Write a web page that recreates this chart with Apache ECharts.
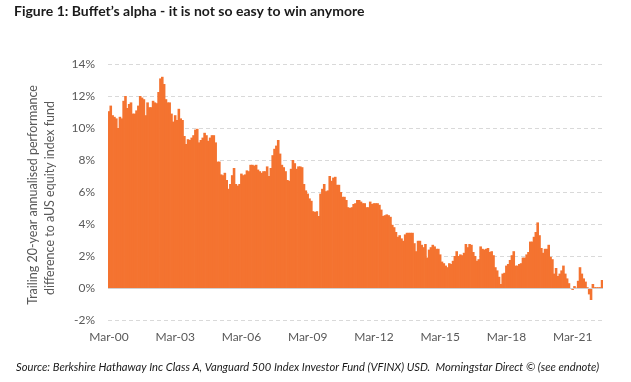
<!DOCTYPE html>
<html>
<head>
<meta charset="utf-8">
<script src="https://cdn.jsdelivr.net/npm/echarts@6/dist/echarts.min.js"></script>
<style>
  html, body { margin: 0; padding: 0; background: #ffffff; }
  #chart { width: 631px; height: 382px; }
</style>
</head>
<body>
<div id="chart"></div>
<script>
// ---- Data (monthly, first bar = Mar-00) ----
const START_YEAR = 2000;
const START_MONTH = 2; // 0-based: March
const MONTH_NAMES = ['Jan','Feb','Mar','Apr','May','Jun','Jul','Aug','Sep','Oct','Nov','Dec'];

const alphaPct = [
  11.05, 11.4, 10.8, 10.7, 10.6, 10.0, 10.7, 10.6, 11.7, 12.0,
  11.25, 11.5, 11.6, 10.9, 10.9, 11.1, 11.4, 12.0, 11.9, 11.8,
  10.8, 11.6, 11.3, 11.3, 11.7, 11.6, 11.55, 12.25, 13.1, 13.2,
  12.75, 11.8, 11.6, 11.6, 10.9, 10.4, 10.8, 10.5, 11.2, 10.6,
  10.5, 9.5, 9.0, 9.3, 9.25, 9.4, 9.55, 9.9, 9.95, 9.1,
  9.25, 9.4, 9.7, 9.55, 9.2, 9.4, 9.55, 9.55, 9.1, 7.9,
  7.9, 7.1, 7.05, 7.2, 6.75, 6.2, 6.5, 7.05, 7.5, 6.5,
  6.4, 6.5, 7.15, 7.05, 7.1, 7.35, 7.3, 7.7, 7.7, 7.65,
  7.7, 7.4, 7.3, 7.2, 7.3, 7.3, 7.6, 7.0, 7.5, 8.3,
  8.7, 8.9, 9.25, 8.4, 7.7, 7.55, 7.3, 6.75, 6.7, 7.45,
  8.0, 7.8, 7.45, 7.6, 7.6, 7.55, 6.5, 6.1, 5.9, 5.6,
  5.45, 4.8, 4.75, 4.8, 4.5, 5.9, 6.2, 6.5, 6.05, 6.1,
  7.0, 6.7, 6.9, 6.95, 6.45, 6.45, 6.0, 5.7, 5.7, 5.5,
  5.05, 5.0, 5.05, 5.25, 5.3, 5.5, 5.5, 5.4, 5.3, 5.3,
  5.05, 5.05, 5.4, 5.25, 5.3, 5.3, 5.3, 5.2, 4.9, 4.5,
  4.55, 4.6, 4.55, 4.45, 3.95, 3.8, 3.5, 3.2, 3.3, 3.1,
  2.95, 3.35, 3.45, 3.45, 3.45, 3.45, 2.8, 2.3, 2.95, 2.95,
  2.7, 2.55, 2.75, 1.9, 2.4, 2.55, 2.7, 2.6, 2.45, 2.45,
  2.1, 1.65, 1.55, 1.4, 1.3, 1.55, 1.5, 1.7, 2.0, 2.3,
  2.0, 2.1, 2.05, 2.2, 2.75, 2.55, 2.75, 2.7, 2.25, 2.0,
  1.7, 1.8, 2.6, 2.45, 2.4, 2.45, 2.5, 2.25, 2.3, 2.05,
  1.3, 1.1, 0.7, 0.25, 0.9, 0.95, 1.4, 1.5, 1.75, 2.05,
  2.3, 1.4, 1.4, 1.5, 1.55, 1.9, 1.9, 2.1, 2.25, 2.9,
  2.9, 3.2, 3.5, 4.1, 3.3, 2.5, 2.2, 2.45, 2.45, 2.7,
  1.95, 1.8, 0.9, 1.25, 0.75, 0.9, 1.1, 1.4, 0.9, 0.6,
  0.3, -0.05, -0.12, 0.12, 0.02, 0.45, 1.3, 0.9, 0.6, 0.4,
  0.05, -0.4, -0.75, 0.25, 0.05, 0.05, 0.05, 0.05, 0.5
];

const yTicks = { min: -2, max: 14, interval: 2 };
const LABEL_EVERY = 36; // months between x labels

const TITLE_TEXT = 'Figure 1: Buffet\u2019s alpha - it is not so easy to win anymore';
const Y_TITLE_1 = 'Trailing 20-year annualised performance';
const Y_TITLE_2 = 'difference to aUS equity index fund';
const SOURCE_TEXT = 'Source: Berkshire Hathaway Inc Class A, Vanguard 500 Index Investor Fund (VFINX) USD.  Morningstar Direct \u00A9 (see endnote)';

const categories = alphaPct.map((_, i) => {
  const m = START_MONTH + i;
  const y = START_YEAR + Math.floor(m / 12);
  return MONTH_NAMES[m % 12] + '-' + String(y % 100).padStart(2, '0');
});

// ---- Chart ----
const chart = echarts.init(document.getElementById('chart'), null, { renderer: 'canvas' });
const FONT = 'Lato, "Open Sans", sans-serif';
const GRAY = '#595959';
const BAR = '#F47330';

chart.setOption({
  animation: false,
  backgroundColor: '#ffffff',
  grid: { left: 108, right: 28, top: 64, bottom: 62, containLabel: false },
  xAxis: {
    type: 'category',
    data: categories,
    boundaryGap: true,
    axisLine: { show: false, onZero: false },
    axisTick: { show: false },
    splitLine: { show: false },
    axisLabel: {
      interval: LABEL_EVERY - 1,
      color: GRAY,
      fontFamily: FONT,
      fontSize: 12,
      margin: 11
    }
  },
  yAxis: {
    type: 'value',
    min: yTicks.min,
    max: yTicks.max,
    interval: yTicks.interval,
    axisLine: { show: false },
    axisTick: { show: false },
    axisLabel: {
      formatter: '{value}%',
      color: GRAY,
      fontFamily: FONT,
      fontSize: 12,
      margin: 13
    },
    splitLine: { show: true, lineStyle: { color: '#D9D9D9', type: [4, 3], width: 1 } }
  },
  series: [{
    type: 'bar',
    data: alphaPct,
    barWidth: 2.6,
    barGap: '-100%',
    itemStyle: { color: BAR },
    markLine: {
      silent: true,
      symbol: 'none',
      label: { show: false },
      lineStyle: { color: '#D0D0D0', type: 'solid', width: 1 },
      data: [{ yAxis: 0 }]
    }
  }],
  graphic: [
    {
      type: 'text', left: 14, top: 4,
      style: { text: TITLE_TEXT, font: 'bold 14px ' + FONT, fill: '#1a1a1a' }
    },
    {
      type: 'text', x: 33, y: 195, rotation: Math.PI / 2,
      style: { text: Y_TITLE_1, font: '12.5px ' + FONT, fill: GRAY, textAlign: 'center', textVerticalAlign: 'middle' }
    },
    {
      type: 'text', x: 50, y: 198, rotation: Math.PI / 2,
      style: { text: Y_TITLE_2, font: '12.5px ' + FONT, fill: GRAY, textAlign: 'center', textVerticalAlign: 'middle' }
    },
    {
      type: 'text', left: 16, top: 362,
      style: { text: SOURCE_TEXT, font: 'italic 11.2px ' + FONT, fill: '#1a1a1a' }
    }
  ]
});
</script>
</body>
</html>
